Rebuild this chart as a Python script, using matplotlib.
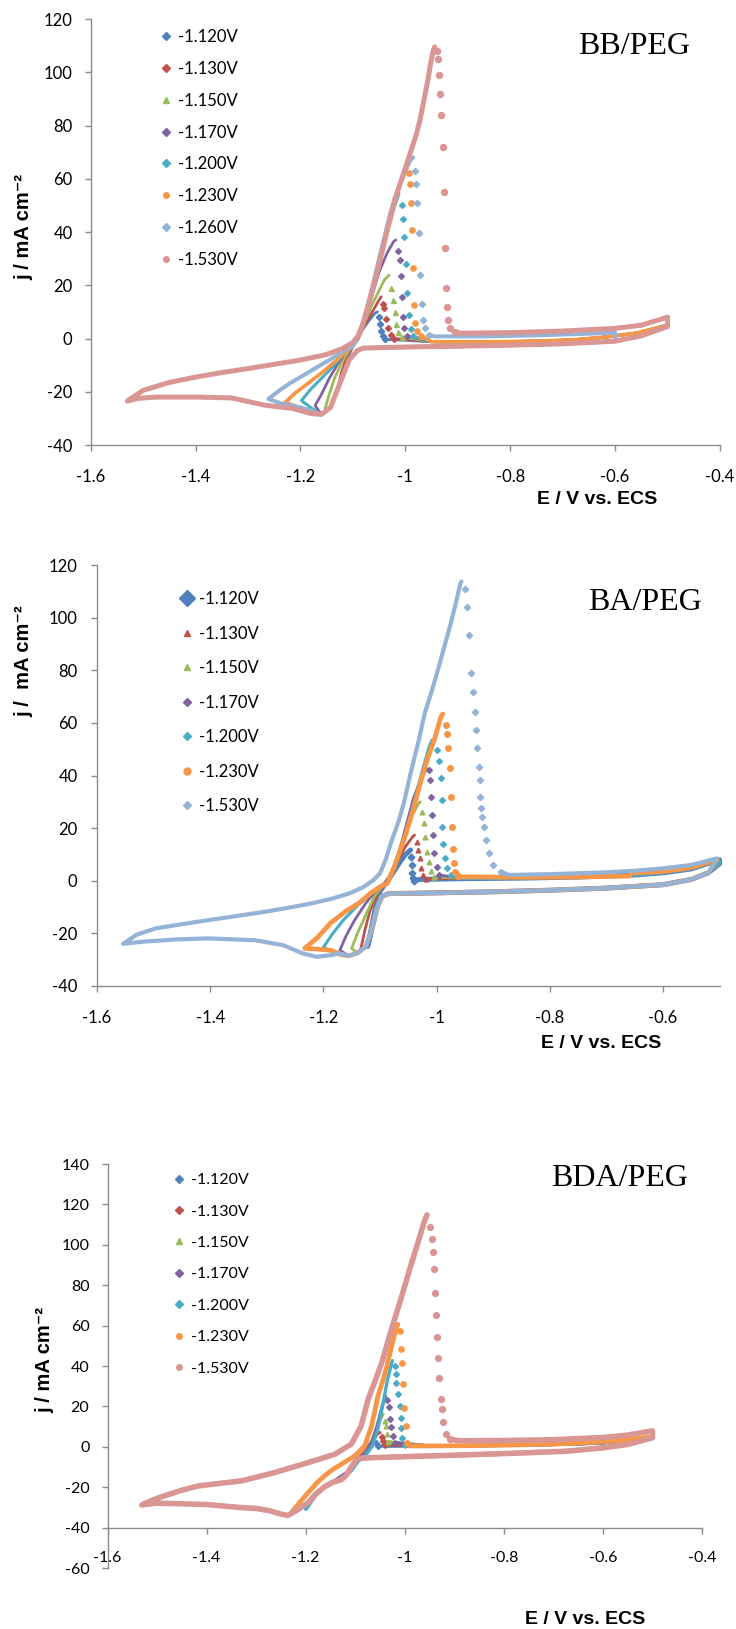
import matplotlib
matplotlib.use("Agg")
import matplotlib.pyplot as plt
from matplotlib.lines import Line2D

plt.rcParams["axes.unicode_minus"] = False

# ---------------------------------------------------------------- data
# Every curve is a cyclic voltammogram (E in V vs. ECS, j in mA cm-2).
# "loop"  : lower branch to the switching potential, return branch, rising edge up to the peak
# "tail"  : the fast-falling stripping points after the peak (drawn as separate markers)
# shared  : cathodic background band, deposition edge, anodic plateau of each panel

labels_bb = ["-1.120V", "-1.130V", "-1.150V", "-1.170V", "-1.200V", "-1.230V", "-1.260V", "-1.530V"]
labels_ba = ["-1.120V", "-1.130V", "-1.150V", "-1.170V", "-1.200V", "-1.230V", "-1.530V"]
labels_bda = ["-1.120V", "-1.130V", "-1.150V", "-1.170V", "-1.200V", "-1.230V", "-1.530V"]

# ---- BB/PEG
bb_cathodic = [(-0.50, 4.5), (-0.55, 1.0), (-0.60, -1.0), (-0.70, -2.0), (-0.80, -2.5),
               (-0.90, -2.9), (-1.00, -3.2), (-1.08, -3.6)]
bb_deposition = [(-1.092, -4.6), (-1.107, -8.0), (-1.125, -17.0), (-1.143, -26.0), (-1.160, -28.5)]
bb_anodic = [(-1.04, -0.8), (-0.95, -1.2), (-0.85, -1.3), (-0.75, -1.0), (-0.68, -0.5),
             (-0.62, 0.5), (-0.56, 2.0), (-0.50, 5.0)]

bb_1120_loop = [(-1.120, -15.0), (-1.112, -9.0), (-1.103, -4.0), (-1.095, -1.0), (-1.085, 2.5),
                (-1.070, 6.5), (-1.058, 9.5), (-1.053, 10.0)]
bb_1120_tail = [(-1.050, 8.0), (-1.048, 5.5), (-1.046, 3.0), (-1.043, 1.0), (-1.039, -0.3)]

bb_1130_loop = [(-1.130, -20.0), (-1.122, -13.0), (-1.112, -7.0), (-1.100, -3.0), (-1.090, 0.0),
                (-1.075, 6.0), (-1.060, 11.0), (-1.050, 14.5), (-1.046, 15.7)]
bb_1130_tail = [(-1.042, 13.0), (-1.040, 11.3), (-1.036, 7.5), (-1.033, 3.8), (-1.028, 1.5), (-1.022, 0.0)]

bb_1150_loop = [(-1.153, -26.5), (-1.145, -21.0), (-1.135, -15.0), (-1.120, -8.5), (-1.105, -4.0),
                (-1.090, 0.0), (-1.080, 5.0), (-1.065, 12.0), (-1.050, 18.0), (-1.040, 22.0), (-1.031, 23.8)]
bb_1150_tail = [(-1.027, 18.8), (-1.024, 14.4), (-1.020, 10.0), (-1.017, 5.6), (-1.013, 2.5), (-1.007, 0.5)]

bb_1170_loop = [(-1.172, -25.2), (-1.160, -21.0), (-1.145, -15.0), (-1.130, -10.0), (-1.115, -5.5),
                (-1.100, -2.8), (-1.090, 0.0), (-1.080, 5.0), (-1.065, 15.0), (-1.050, 25.0),
                (-1.035, 32.0), (-1.022, 36.5), (-1.018, 37.0)]
bb_1170_tail = [(-1.014, 33.0), (-1.011, 29.4), (-1.009, 23.4), (-1.007, 15.6), (-1.005, 8.0),
                (-1.002, 3.8), (-0.997, 1.0)]

bb_1200_loop = [(-1.180, -26.0), (-1.198, -23.3), (-1.180, -19.0), (-1.160, -15.0), (-1.140, -11.0),
                (-1.120, -6.5), (-1.100, -2.8), (-1.090, 0.0), (-1.080, 5.0), (-1.065, 17.0),
                (-1.050, 29.0), (-1.035, 40.0), (-1.020, 50.0), (-1.012, 54.5)]
bb_1200_tail = [(-1.007, 50.0), (-1.004, 45.0), (-1.002, 38.0), (-0.999, 28.0), (-0.996, 17.0),
                (-0.993, 9.0), (-0.990, 3.5), (-0.985, 0.8)]

bb_1230_loop = [(-1.190, -26.5), (-1.210, -25.3), (-1.229, -24.0), (-1.210, -20.5), (-1.190, -17.5),
                (-1.160, -13.0), (-1.130, -8.0), (-1.110, -4.5), (-1.100, -2.8), (-1.090, 0.0),
                (-1.080, 5.0), (-1.065, 17.0), (-1.050, 29.0), (-1.040, 37.0), (-1.030, 45.0),
                (-1.020, 52.0), (-1.010, 58.0), (-1.000, 62.5), (-0.997, 64.0)]
bb_1230_tail = [(-0.993, 62.0), (-0.991, 58.0), (-0.990, 51.0), (-0.988, 40.7), (-0.985, 26.3),
                (-0.983, 12.5), (-0.981, 5.9), (-0.977, 3.0), (-0.970, 1.0)]

bb_1260_loop = [(-1.180, -27.0), (-1.210, -25.5), (-1.235, -24.5), (-1.261, -22.7), (-1.240, -19.5),
                (-1.220, -16.8), (-1.200, -14.5), (-1.170, -11.0), (-1.140, -7.5), (-1.120, -5.0),
                (-1.100, -2.8), (-1.092, -0.5), (-1.085, 3.0), (-1.075, 10.0), (-1.062, 20.0),
                (-1.050, 30.0), (-1.040, 38.0), (-1.030, 46.0), (-1.020, 53.0), (-1.010, 58.0),
                (-1.000, 63.0), (-0.990, 67.0), (-0.985, 68.0)]
bb_1260_tail = [(-0.981, 63.0), (-0.979, 58.0), (-0.977, 51.0), (-0.974, 39.5), (-0.972, 23.8),
                (-0.969, 12.8), (-0.966, 7.1), (-0.962, 3.8), (-0.955, 1.5)]
bb_1260_anodic = [(-0.945, 0.8), (-0.85, 0.8), (-0.75, 1.2), (-0.65, 1.8), (-0.60, 2.2)]

bb_1530_loop = [(-1.179, -28.2), (-1.215, -26.3), (-1.269, -25.0), (-1.332, -22.3), (-1.400, -22.0),
                (-1.476, -22.0), (-1.510, -22.5), (-1.530, -23.5), (-1.500, -19.5), (-1.450, -16.5),
                (-1.400, -14.5), (-1.350, -12.8), (-1.300, -11.3), (-1.250, -9.7), (-1.200, -8.1),
                (-1.150, -6.0), (-1.120, -3.8), (-1.100, -1.5), (-1.090, 1.0), (-1.080, 6.0),
                (-1.070, 13.0), (-1.060, 20.0), (-1.050, 28.0), (-1.040, 36.0), (-1.030, 44.0),
                (-1.020, 52.0), (-1.010, 58.0), (-1.000, 64.0), (-0.990, 70.0), (-0.980, 76.0),
                (-0.972, 82.0), (-0.965, 89.0), (-0.958, 96.0), (-0.952, 103.0), (-0.947, 108.0),
                (-0.944, 109.5)]
bb_1530_tail = [(-0.940, 108.0), (-0.937, 105.0), (-0.935, 99.0), (-0.933, 92.0), (-0.931, 84.0),
                (-0.929, 72.0), (-0.927, 55.0), (-0.925, 34.0), (-0.923, 19.0), (-0.921, 12.0),
                (-0.918, 7.0), (-0.914, 4.0), (-0.905, 2.5)]
bb_1530_anodic = [(-0.895, 2.0), (-0.80, 2.2), (-0.70, 2.8), (-0.60, 3.8), (-0.55, 5.0), (-0.50, 8.0)]

# ---- BA/PEG
ba_cathodic = [(-0.50, 6.5), (-0.52, 3.0), (-0.55, 0.5), (-0.60, -1.5), (-0.70, -2.8), (-0.80, -3.6),
               (-0.90, -4.2), (-1.00, -4.6), (-1.085, -4.9)]
ba_deposition = [(-1.097, -6.0), (-1.105, -10.0), (-1.115, -19.0), (-1.125, -25.0), (-1.140, -27.5),
                 (-1.155, -28.5)]
ba_anodic = [(-1.03, 0.5), (-0.95, 0.8), (-0.85, 1.0), (-0.75, 1.4), (-0.65, 2.2), (-0.60, 3.0),
             (-0.55, 4.5), (-0.50, 8.0)]

ba_1120_loop = [(-1.122, -25.0), (-1.116, -19.0), (-1.108, -10.0), (-1.100, -4.0), (-1.090, -1.0),
                (-1.080, 2.0), (-1.065, 7.0), (-1.055, 10.0), (-1.046, 11.7)]
ba_1120_tail = [(-1.045, 9.0), (-1.044, 6.0), (-1.043, 3.0), (-1.042, 1.0), (-1.040, 0.0)]

ba_1130_loop = [(-1.135, -27.0), (-1.127, -19.0), (-1.117, -11.0), (-1.105, -5.0), (-1.095, -2.0),
                (-1.085, 1.0), (-1.070, 7.0), (-1.055, 13.0), (-1.043, 16.5), (-1.039, 17.4)]
ba_1130_tail = [(-1.035, 14.8), (-1.032, 11.7), (-1.030, 8.5), (-1.028, 4.7), (-1.024, 2.0), (-1.018, 0.8)]

ba_1150_loop = [(-1.150, -25.7), (-1.140, -20.0), (-1.125, -13.0), (-1.110, -6.0), (-1.098, -2.5),
                (-1.087, 0.0), (-1.075, 6.0), (-1.060, 15.0), (-1.045, 24.0), (-1.033, 29.0), (-1.029, 30.0)]
ba_1150_tail = [(-1.025, 26.2), (-1.022, 21.8), (-1.020, 16.7), (-1.017, 11.0), (-1.014, 7.2),
                (-1.010, 3.8), (-1.004, 1.5)]

ba_1170_loop = [(-1.171, -26.4), (-1.160, -21.0), (-1.145, -15.0), (-1.125, -8.5), (-1.108, -4.0),
                (-1.095, -1.5), (-1.085, 0.5), (-1.070, 8.0), (-1.055, 20.0), (-1.040, 32.0),
                (-1.025, 40.0), (-1.017, 42.5)]
ba_1170_tail = [(-1.013, 42.0), (-1.011, 38.3), (-1.010, 31.9), (-1.008, 25.0), (-1.006, 17.4),
                (-1.004, 10.4), (-1.000, 5.3), (-0.995, 2.2)]

ba_1200_loop = [(-1.170, -28.0), (-1.185, -27.0), (-1.200, -25.3), (-1.185, -20.5), (-1.165, -15.0),
                (-1.140, -9.5), (-1.115, -4.8), (-1.100, -2.5), (-1.088, -1.0), (-1.075, 5.0),
                (-1.055, 18.0), (-1.040, 30.0), (-1.025, 42.0), (-1.013, 51.0), (-1.008, 53.5)]
ba_1200_tail = [(-1.000, 49.7), (-0.996, 45.6), (-0.993, 38.9), (-0.991, 30.7), (-0.990, 20.5),
                (-0.988, 13.9), (-0.985, 8.5), (-0.981, 4.7), (-0.975, 2.0)]

ba_1230_loop = [(-1.170, -28.0), (-1.187, -26.4), (-1.210, -26.0), (-1.233, -25.7), (-1.210, -21.5),
                (-1.188, -16.2), (-1.160, -11.5), (-1.138, -8.6), (-1.115, -4.5), (-1.100, -2.3),
                (-1.087, -1.0), (-1.075, 5.0), (-1.054, 18.0), (-1.040, 28.0), (-1.029, 37.0),
                (-1.015, 47.0), (-1.004, 53.5), (-0.993, 62.0), (-0.989, 63.4)]
ba_1230_tail = [(-0.983, 59.2), (-0.981, 55.6), (-0.979, 50.3), (-0.977, 42.7), (-0.975, 31.9),
                (-0.973, 20.5), (-0.971, 11.9), (-0.969, 6.6), (-0.967, 3.4), (-0.962, 1.8)]
ba_1230_anodic = [(-0.955, 1.5), (-0.85, 1.3), (-0.75, 1.4), (-0.66, 1.8), (-0.655, 3.0), (-0.60, 3.5),
                  (-0.55, 5.0), (-0.505, 8.0)]

ba_1530_loop = [(-1.171, -27.6), (-1.187, -28.3), (-1.212, -28.9), (-1.237, -27.6), (-1.271, -24.5),
                (-1.321, -22.6), (-1.404, -21.9), (-1.460, -22.3), (-1.521, -23.2), (-1.554, -24.0),
                (-1.530, -20.5), (-1.496, -18.1), (-1.450, -16.5), (-1.404, -15.0), (-1.350, -13.3),
                (-1.304, -11.8), (-1.260, -10.2), (-1.221, -8.6), (-1.185, -6.8), (-1.154, -4.8),
                (-1.130, -2.5), (-1.112, 0.2), (-1.100, 2.8), (-1.090, 8.0), (-1.079, 15.5),
                (-1.068, 22.0), (-1.058, 29.4), (-1.046, 40.8), (-1.033, 52.0), (-1.021, 63.6),
                (-1.008, 72.5), (-0.996, 81.4), (-0.985, 90.0), (-0.975, 97.8), (-0.966, 105.5),
                (-0.958, 113.0), (-0.956, 113.7)]
ba_1530_tail = [(-0.950, 111.0), (-0.946, 104.0), (-0.943, 93.4), (-0.939, 78.8), (-0.935, 71.9),
                (-0.933, 64.3), (-0.931, 57.3), (-0.928, 50.3), (-0.925, 43.3), (-0.924, 38.3),
                (-0.923, 31.9), (-0.921, 27.5), (-0.919, 24.3), (-0.917, 20.5), (-0.913, 15.5),
                (-0.908, 10.4), (-0.900, 6.0), (-0.887, 3.4)]
ba_1530_anodic = [(-0.871, 2.2), (-0.80, 2.5), (-0.70, 3.2), (-0.65, 3.8), (-0.60, 4.7), (-0.55, 6.0),
                  (-0.505, 8.5)]

# ---- BDA/PEG
bda_cathodic = [(-0.50, 4.5), (-0.55, 1.2), (-0.60, -0.5), (-0.674, -2.2), (-0.77, -3.1), (-0.865, -3.9),
                (-0.96, -4.6), (-1.055, -5.3), (-1.088, -5.6)]
bda_deposition = [(-1.098, -6.5), (-1.108, -10.0), (-1.118, -14.0), (-1.128, -16.3), (-1.145, -17.5),
                  (-1.162, -19.8), (-1.180, -23.5), (-1.195, -27.6), (-1.215, -31.0)]
bda_anodic = [(-1.04, 0.3), (-0.95, 0.4), (-0.85, 0.6), (-0.75, 0.9), (-0.65, 1.5), (-0.60, 2.0),
              (-0.55, 3.2), (-0.50, 5.0)]

bda_1120_loop = [(-1.120, -15.0), (-1.110, -11.0), (-1.095, -6.0), (-1.080, -2.5), (-1.070, 1.5), (-1.062, 3.7)]
bda_1120_tail = [(-1.059, 2.0), (-1.055, 0.5)]

bda_1130_loop = [(-1.130, -16.5), (-1.120, -14.0), (-1.105, -9.0), (-1.088, -4.5), (-1.075, -1.0),
                 (-1.065, 3.5), (-1.055, 6.5), (-1.050, 7.0)]
bda_1130_tail = [(-1.046, 5.0), (-1.043, 2.8), (-1.039, 1.0)]

bda_1150_loop = [(-1.150, -18.5), (-1.140, -17.5), (-1.120, -14.0), (-1.100, -8.5), (-1.082, -4.0),
                 (-1.070, 0.5), (-1.060, 7.0), (-1.050, 13.5), (-1.044, 16.1)]
bda_1150_tail = [(-1.040, 13.0), (-1.038, 10.3), (-1.036, 6.2), (-1.033, 2.5)]

bda_1170_loop = [(-1.170, -22.0), (-1.160, -19.5), (-1.140, -16.5), (-1.113, -12.0), (-1.095, -7.0),
                 (-1.078, -3.0), (-1.065, 3.0), (-1.055, 11.0), (-1.046, 19.5), (-1.039, 25.2)]
bda_1170_tail = [(-1.035, 23.0), (-1.032, 19.7), (-1.029, 13.8), (-1.027, 9.6), (-1.024, 5.4), (-1.019, 2.0)]

bda_1200_loop = [(-1.200, -31.0), (-1.195, -29.5), (-1.173, -21.8), (-1.155, -18.5), (-1.128, -15.5),
                 (-1.108, -12.0), (-1.095, -7.5), (-1.078, -4.0), (-1.065, 0.5), (-1.055, 8.0),
                 (-1.045, 20.0), (-1.035, 33.0), (-1.028, 40.0), (-1.025, 42.7)]
bda_1200_tail = [(-1.020, 40.0), (-1.018, 36.0), (-1.017, 31.8), (-1.013, 26.0), (-1.010, 20.2),
                 (-1.008, 14.5), (-1.007, 9.5), (-1.005, 4.5), (-1.000, 1.0)]

bda_1230_loop = [(-1.229, -32.6), (-1.212, -27.5), (-1.195, -22.7), (-1.178, -18.0), (-1.162, -14.4),
                 (-1.145, -11.2), (-1.128, -8.6), (-1.101, -4.5), (-1.081, 0.4), (-1.067, 10.3),
                 (-1.054, 25.2), (-1.044, 33.0), (-1.036, 40.0), (-1.022, 54.2), (-1.016, 59.5),
                 (-1.014, 60.6)]
bda_1230_tail = [(-1.010, 57.5), (-1.008, 48.3), (-1.006, 41.6), (-1.003, 31.0), (-1.001, 19.4),
                 (-0.998, 10.3), (-0.995, 2.0)]
bda_1230_anodic = [(-0.990, 0.4), (-0.90, 0.5), (-0.80, 0.8), (-0.70, 1.3), (-0.60, 2.5), (-0.55, 3.5),
                   (-0.50, 5.0)]

bda_1530_loop = [(-1.236, -34.0), (-1.250, -33.3), (-1.274, -31.6), (-1.300, -30.5), (-1.330, -30.1),
                 (-1.398, -28.6), (-1.450, -28.2), (-1.503, -27.9), (-1.531, -28.8), (-1.510, -26.5),
                 (-1.493, -24.9), (-1.450, -21.5), (-1.417, -19.4), (-1.370, -18.0), (-1.330, -16.9),
                 (-1.263, -12.8), (-1.195, -7.8), (-1.141, -3.7), (-1.108, 1.3), (-1.088, 10.3),
                 (-1.074, 23.5), (-1.061, 31.8), (-1.046, 42.0), (-1.027, 58.0), (-1.008, 73.0),
                 (-0.989, 88.7), (-0.970, 103.8), (-0.960, 112.0), (-0.955, 114.8)]
bda_1530_tail = [(-0.949, 108.9), (-0.946, 103.0), (-0.943, 96.2), (-0.941, 87.8), (-0.938, 76.0),
                 (-0.936, 65.1), (-0.934, 54.2), (-0.932, 44.0), (-0.930, 34.0), (-0.927, 23.9),
                 (-0.925, 18.8), (-0.922, 12.1), (-0.917, 6.2), (-0.908, 3.7)]
bda_1530_anodic = [(-0.890, 3.0), (-0.80, 3.1), (-0.70, 3.5), (-0.60, 4.6), (-0.55, 5.8), (-0.50, 7.9)]

# ---------------------------------------------------------------- styling
BLUE, RED, GREEN, PURPLE = "#4F81BD", "#C0504D", "#9BBB59", "#8064A2"
AQUA, ORANGE, LBLUE, PINK = "#4BACC6", "#F79646", "#95B3D7", "#D99694"
AXIS_GREY = "#8C8C8C"

W, H = 736, 1629
fig = plt.figure(figsize=(W / 100, H / 100), dpi=100)


def px_axes(left, right, top, bottom):
    return fig.add_axes([left / W, 1 - bottom / H, (right - left) / W, (bottom - top) / H])


def sweep_path(loop, tail, anodic, cathodic, deposition):
    """Anodic plateau -> cathodic band -> deposition edge -> loop, as one polyline."""
    start = tail[-1][0]
    up = [tail[-1]] + [p for p in anodic if p[0] > start]
    turn = up[-1][0]
    down = [p for p in cathodic if p[0] <= turn + 1e-9]
    dep = [p for p in deposition if p[0] > loop[0][0]]
    return up + down + dep + loop


def draw(ax, loop, tail, anodic, cathodic, deposition, color, lw, marker, ms):
    path = sweep_path(loop, tail, anodic, cathodic, deposition)
    ax.plot([p[0] for p in path], [p[1] for p in path], color=color, lw=lw,
            solid_joinstyle="round", solid_capstyle="round", clip_on=False)
    ax.plot([p[0] for p in tail], [p[1] for p in tail], ls="none", marker=marker, ms=ms,
            color=color, mec=color, clip_on=False)


def style_axes(ax, xlim, ylim, xticks, yticks, fs, xpad, ypad, xaxis_at=None):
    ax.set_xlim(*xlim)
    ax.set_ylim(*ylim)
    ax.patch.set_alpha(0)
    for s in ("top", "right"):
        ax.spines[s].set_visible(False)
    for s in ("left", "bottom"):
        ax.spines[s].set_color(AXIS_GREY)
        ax.spines[s].set_linewidth(1.0)
    if xaxis_at is not None:
        ax.spines["bottom"].set_position(("data", xaxis_at))
    ax.set_xticks(xticks)
    ax.set_yticks(yticks)
    ax.set_xticklabels([f"{t:g}" for t in xticks])
    ax.set_yticklabels([f"{t:g}" for t in yticks])
    ax.tick_params(axis="both", direction="out", length=4, width=1.0, color=AXIS_GREY,
                   labelsize=fs, labelcolor="black")
    ax.tick_params(axis="x", pad=xpad)
    ax.tick_params(axis="y", pad=ypad)
    for t in ax.get_xticklabels() + ax.get_yticklabels():
        t.set_family("Lato")


def legend(ax, handles, labels, x, y, fs, spacing):
    return ax.legend(handles, labels, loc="upper left", bbox_to_anchor=(x / W, 1 - y / H),
                     bbox_transform=fig.transFigure, frameon=False, borderpad=0, borderaxespad=0,
                     handlelength=0.8, handletextpad=0.35, labelspacing=spacing,
                     prop={"family": "Lato", "size": fs})


def mk(color, marker, ms):
    return Line2D([], [], ls="none", marker=marker, ms=ms, color=color, mec=color)


LABEL_FONT = ["Liberation Sans", "DejaVu Sans"]
YLAB = "j / mA cm\u207b\u00b2"
YLAB_BA = "j /  mA cm\u207b\u00b2"


def panel_text(title, tx, ty, xx, xy, ylab, yx, yy):
    fig.text(tx / W, 1 - ty / H, title, family="Liberation Serif", fontsize=23, ha="center", va="center")
    fig.text(xx / W, 1 - xy / H, "E / V vs. ECS", family=LABEL_FONT, weight="bold",
             fontsize=14, ha="center", va="center")
    fig.text(yx / W, 1 - yy / H, ylab, family=LABEL_FONT, weight="bold", fontsize=14.5,
             rotation=90, ha="center", va="center")


# ---------------------------------------------------------------- BB/PEG
ax1 = px_axes(90.6, 720, 19, 445)
curves_bb = [
    (bb_1120_loop, bb_1120_tail, bb_anodic, BLUE, 2.0, "D", 3.2),
    (bb_1130_loop, bb_1130_tail, bb_anodic, RED, 2.0, "D", 3.0),
    (bb_1150_loop, bb_1150_tail, bb_anodic, GREEN, 2.0, "^", 3.6),
    (bb_1170_loop, bb_1170_tail, bb_anodic, PURPLE, 2.0, "D", 3.0),
    (bb_1200_loop, bb_1200_tail, bb_anodic, AQUA, 2.2, "D", 3.0),
    (bb_1230_loop, bb_1230_tail, bb_anodic, ORANGE, 2.6, "o", 3.8),
    (bb_1260_loop, bb_1260_tail, bb_1260_anodic, LBLUE, 2.9, "D", 3.2),
    (bb_1530_loop, bb_1530_tail, bb_1530_anodic, PINK, 3.6, "o", 4.3),
]
for loop, tail, anod, c, lw, m, ms in curves_bb:
    draw(ax1, loop, tail, anod, bb_cathodic, bb_deposition, c, lw, m, ms)
style_axes(ax1, (-1.6, -0.4), (-40, 120), [-1.6, -1.4, -1.2, -1.0, -0.8, -0.6, -0.4],
           list(range(-40, 121, 20)), 12, 13, 9)
legend(ax1, [mk(c[3], m, 4) for c, m in zip(curves_bb, ["D", "D", "^", "D", "D", "o", "D", "o"])],
       labels_bb, 159, 29, 12, 0.95)
panel_text("BB/PEG", 634, 47, 597, 500, YLAB, 24, 227)

# ---------------------------------------------------------------- BA/PEG
ax2 = px_axes(97, 719.6, 565, 986)
curves_ba = [
    (ba_1120_loop, ba_1120_tail, ba_anodic, BLUE, 3.6, "D", 3.4),
    (ba_1130_loop, ba_1130_tail, ba_anodic, RED, 2.0, "^", 3.4),
    (ba_1150_loop, ba_1150_tail, ba_anodic, GREEN, 2.0, "^", 3.4),
    (ba_1170_loop, ba_1170_tail, ba_anodic, PURPLE, 2.0, "D", 3.0),
    (ba_1200_loop, ba_1200_tail, ba_anodic, AQUA, 2.2, "D", 3.0),
    (ba_1230_loop, ba_1230_tail, ba_1230_anodic, ORANGE, 3.4, "o", 4.0),
    (ba_1530_loop, ba_1530_tail, ba_1530_anodic, LBLUE, 3.0, "D", 3.2),
]
for loop, tail, anod, c, lw, m, ms in curves_ba:
    draw(ax2, loop, tail, anod, ba_cathodic, ba_deposition, c, lw, m, ms)
style_axes(ax2, (-1.6, -0.5), (-40, 120), [-1.6, -1.4, -1.2, -1.0, -0.8, -0.6],
           list(range(-40, 121, 20)), 12, 13, 10)
legend(ax2, [mk(BLUE, "D", 8), mk(RED, "^", 4), mk(GREEN, "^", 4), mk(PURPLE, "D", 4),
             mk(AQUA, "D", 4), mk(ORANGE, "o", 5), mk(LBLUE, "D", 4)],
       labels_ba, 180, 591, 12, 1.11)
panel_text("BA/PEG", 645, 603, 601, 1044, YLAB_BA, 24, 661)

# ---------------------------------------------------------------- BDA/PEG
ax3 = px_axes(107.5, 702, 1164, 1568)
curves_bda = [
    (bda_1120_loop, bda_1120_tail, bda_anodic, BLUE, 2.4, "D", 3.0),
    (bda_1130_loop, bda_1130_tail, bda_anodic, RED, 2.4, "D", 3.0),
    (bda_1150_loop, bda_1150_tail, bda_anodic, GREEN, 2.4, "^", 3.4),
    (bda_1170_loop, bda_1170_tail, bda_anodic, PURPLE, 2.4, "D", 3.0),
    (bda_1200_loop, bda_1200_tail, bda_anodic, AQUA, 2.4, "D", 3.0),
    (bda_1230_loop, bda_1230_tail, bda_1230_anodic, ORANGE, 3.4, "o", 3.8),
    (bda_1530_loop, bda_1530_tail, bda_1530_anodic, PINK, 4.0, "o", 4.2),
]
for loop, tail, anod, c, lw, m, ms in curves_bda:
    draw(ax3, loop, tail, anod, bda_cathodic, bda_deposition, c, lw, m, ms)
style_axes(ax3, (-1.6, -0.4), (-60, 140), [-1.6, -1.4, -1.2, -1.0, -0.8, -0.6, -0.4],
           list(range(-60, 141, 20)), 11.5, 13, 9, xaxis_at=-40)
legend(ax3, [mk(c[3], m, 4) for c, m in zip(curves_bda, ["D", "D", "^", "D", "D", "o", "o"])],
       labels_bda, 173, 1173, 11.5, 1.08)
panel_text("BDA/PEG", 619, 1178, 585, 1619, YLAB, 45, 1360)

fig.savefig("out.png", dpi=100)
